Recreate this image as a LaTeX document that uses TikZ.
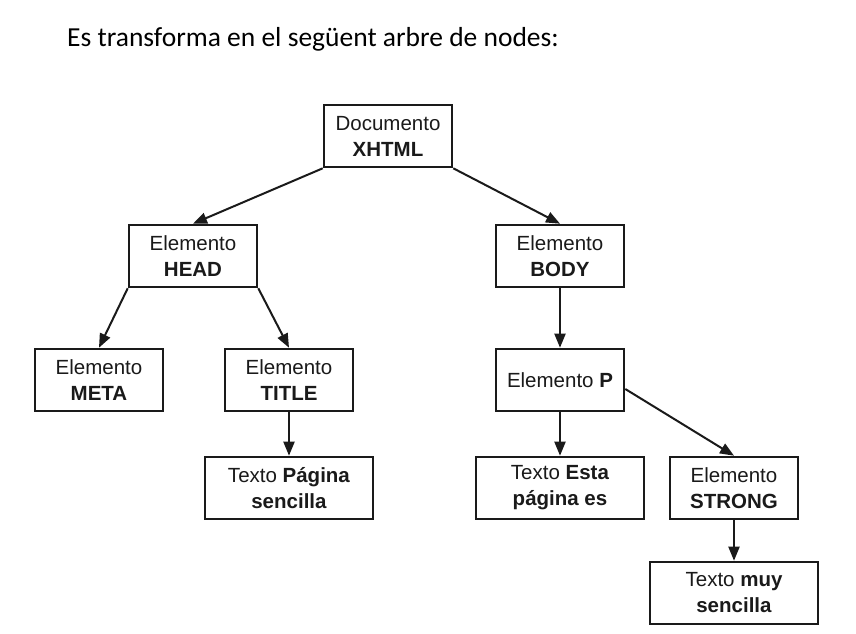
\documentclass[tikz,border=0pt]{standalone}
\usepackage{fontspec}
\setmainfont{Liberation Sans}
\newfontfamily\titlefont{Carlito}
\usetikzlibrary{arrows.meta}
\definecolor{treeink}{HTML}{1A1A1A}

\begin{document}
\begin{tikzpicture}[x=1pt,y=-1pt,
  box/.style={draw=treeink,fill=white,line width=2.6pt,inner sep=0pt,
              minimum width=128pt,minimum height=62pt,align=center,
              text=treeink,font=\fontsize{20.5}{26}\selectfont},
  wide/.style={box,minimum width=168pt},
  arr/.style={-{Triangle[length=14pt,width=11pt]},line width=2pt,treeink}]
  \useasboundingbox (0,0) rectangle (856,633);
  \node[anchor=base west,inner sep=0pt,font=\titlefont\fontsize{27.5}{32}\selectfont]
       (title) at (67,46) {Es transforma en el següent arbre de nodes:};
  % nivell 1
  \node[box] (doc) at (388,136) {Documento\\\textbf{XHTML}};
  % nivell 2
  \node[box] (head) at (193,256) {Elemento\\\textbf{HEAD}};
  \node[box] (body) at (560,256) {Elemento\\\textbf{BODY}};
  % nivell 3
  \node[box] (meta) at (99,380) {Elemento\\\textbf{META}};
  \node[box] (titol) at (289,380) {Elemento\\\textbf{TITLE}};
  \node[box] (p) at (560,380) {Elemento \textbf{P}};
  % nivell 4
  \node[wide] (txtpag) at (289,488) {Texto \textbf{Página}\\\textbf{sencilla}};
  \node[wide] (txtesta) at (560,488) {Texto \textbf{Esta}\\\textbf{página es}};
  \node[box] (strong) at (734,488) {Elemento\\\textbf{STRONG}};
  % nivell 5
  \node[wide] (txtmuy) at (734,593) {Texto \textbf{muy}\\\textbf{sencilla}};
  \draw[arr] (doc.south west) -- (head.north);
  \draw[arr] (doc.south east) -- (body.north);
  \draw[arr] (head.south west) -- (meta.north);
  \draw[arr] (head.south east) -- (titol.north);
  \draw[arr] (titol) -- (txtpag);
  \draw[arr] (body) -- (p);
  \draw[arr] (p) -- (txtesta);
  \draw[arr] ([yshift=-9pt]p.east) -- (strong.north);
  \draw[arr] (strong) -- (txtmuy);
\end{tikzpicture}
\end{document}
